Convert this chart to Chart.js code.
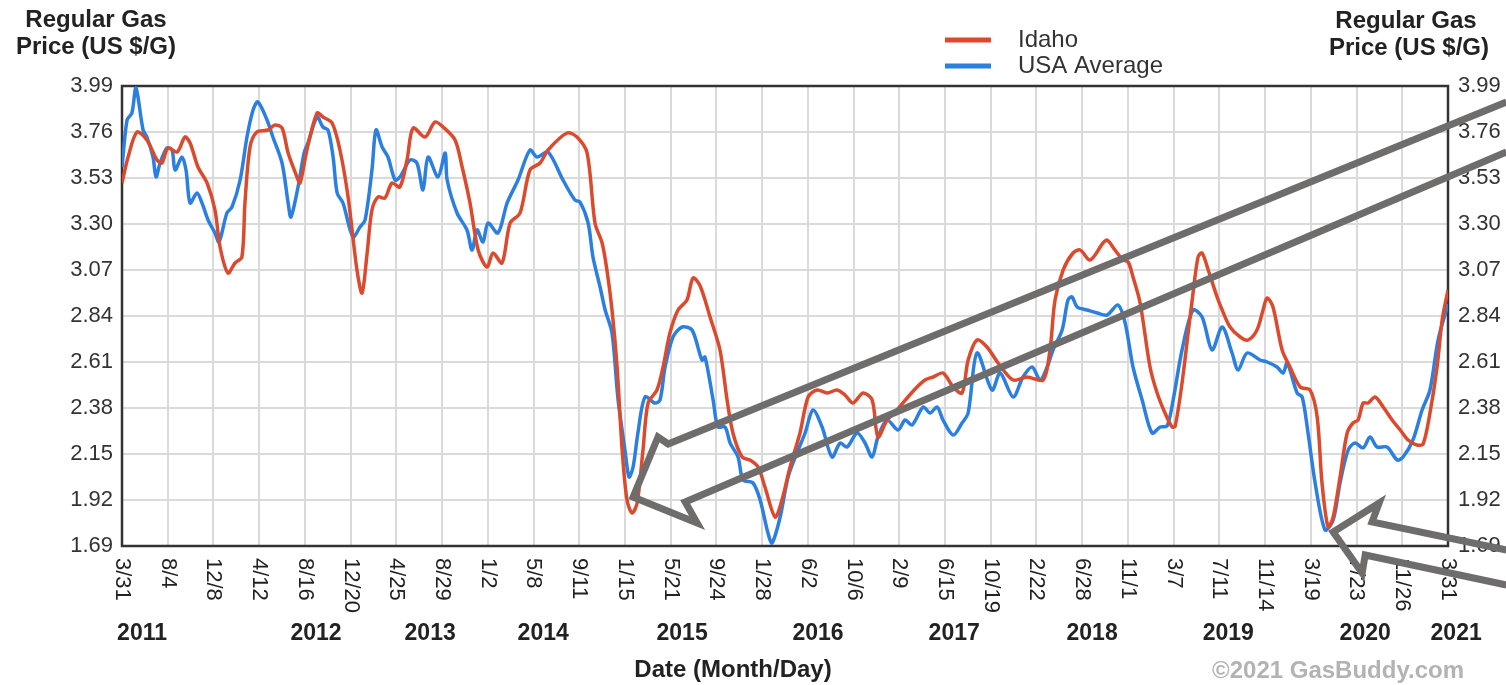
<!DOCTYPE html>
<html>
<head>
<meta charset="utf-8">
<title>Regular Gas Price - Idaho vs USA Average</title>
<script src="https://cdn.jsdelivr.net/npm/chart.js@4.4.1/dist/chart.umd.min.js"></script>
<style>
  html, body { margin: 0; padding: 0; background: #fff; }
  #chart { display: block; }
</style>
</head>
<body>
<canvas id="chart" width="1506" height="685"></canvas>
<script>
// x values are weeks since 3/31/2011, one grid line every 18 weeks
const WEEKS_PER_TICK = 18;

const xTickLabels = ['3/31', '8/4', '12/8', '4/12', '8/16', '12/20', '4/25', '8/29', '1/2', '5/8',
    '9/11', '1/15', '5/21', '9/24', '1/28', '6/2', '10/6', '2/9', '6/15', '10/19',
    '2/22', '6/28', '11/1', '3/7', '7/11', '11/14', '3/19', '7/23', '11/26', '3/31'];

const yearLabels = ['2011', '2012', '2013', '2014', '2015', '2016', '2017', '2018', '2019', '2020', '2021'];
const yearWeeks = [7.9, 76.4, 121.3, 165.8, 220.5, 274.0, 327.6, 381.9, 435.5, 489.4, 525.2];

const yTicks = [1.69, 1.92, 2.15, 2.38, 2.61, 2.84, 3.07, 3.30, 3.53, 3.76, 3.99];
const yTickLabels = ['1.69', '1.92', '2.15', '2.38', '2.61', '2.84', '3.07', '3.30', '3.53', '3.76', '3.99'];

// Idaho
const idahoWeeks = [0, 2.4, 5.9, 9.8, 13.8, 15.7, 18.1, 21.7, 24.8, 26.8,
    29.9, 33.5, 36.6, 38.6, 41.7, 44.5, 47.2, 48.4, 50.4, 53.1,
    57.5, 60.2, 63.0, 65.4, 68.9, 70.1, 72.8, 76.8, 79.1, 82.7,
    85.8, 89.0, 92.5, 94.5, 96.5, 98.4, 100.8, 103.5, 106.3, 109.4,
    112.2, 114.6, 119.3, 123.2, 126.4, 131.1, 133.9, 137.0, 140.2, 143.7,
    146.1, 149.6, 152.8, 156.7, 160.6, 164.6, 167.7, 175.2, 179.1, 183.1,
    186.2, 189.0, 190.9, 192.9, 194.9, 196.9, 198.8, 200.8, 202.8, 205.1,
    207.1, 210.6, 213.0, 215.7, 218.9, 222.4, 224.8, 227.6, 231.5, 235.4,
    238.2, 240.5, 244.1, 247.2, 250.4, 253.1, 257.1, 259.8, 263.0, 266.9,
    270.1, 273.6, 277.6, 281.5, 284.6, 287.8, 291.7, 295.3, 297.6, 301.2,
    305.1, 309.4, 313.0, 316.1, 319.3, 323.2, 327.2, 330.7, 333.1, 336.6,
    340.5, 344.9, 350.8, 356.3, 362.6, 365.3, 367.3, 370.5, 374.4, 377.2,
    381.1, 386.2, 387.8, 390.9, 394.1, 396.1, 398.0, 400.8, 404.7, 407.5,
    410.6, 413.4, 414.6, 417.3, 419.7, 421.3, 423.6, 425.2, 427.6, 431.1,
    433.1, 436.2, 440.2, 443.3, 446.8, 449.2, 450.8, 453.1, 456.7, 459.8,
    463.8, 467.7, 470.5, 472.4, 474.8, 476.8, 479.5, 482.3, 484.6, 486.6,
    488.6, 490.6, 493.3, 496.5, 500.0, 503.2, 506.3, 509.8, 512.2, 514.9,
    517.7, 519.7, 522];
const idahoPrice = [3.505, 3.635, 3.76, 3.72, 3.62, 3.605, 3.68, 3.66, 3.735, 3.705,
    3.585, 3.505, 3.37, 3.185, 3.055, 3.105, 3.135, 3.405, 3.685, 3.76,
    3.77, 3.795, 3.78, 3.655, 3.535, 3.505, 3.67, 3.855, 3.835, 3.805,
    3.67, 3.435, 3.07, 2.955, 3.155, 3.37, 3.435, 3.43, 3.505, 3.485,
    3.62, 3.78, 3.735, 3.81, 3.785, 3.72, 3.585, 3.405, 3.17, 3.085,
    3.155, 3.105, 3.305, 3.355, 3.57, 3.605, 3.67, 3.755, 3.735, 3.655,
    3.305, 3.205, 3.07, 2.87, 2.585, 2.17, 1.92, 1.855, 1.905, 2.17,
    2.405, 2.47, 2.585, 2.755, 2.87, 2.92, 3.03, 2.99, 2.835, 2.67,
    2.42, 2.255, 2.135, 2.12, 2.085, 1.985, 1.835, 1.92, 2.085, 2.255,
    2.435, 2.47, 2.455, 2.47, 2.445, 2.405, 2.455, 2.42, 2.235, 2.32,
    2.37, 2.435, 2.485, 2.52, 2.535, 2.555, 2.485, 2.455, 2.62, 2.72,
    2.685, 2.605, 2.52, 2.535, 2.52, 2.67, 2.92, 3.07, 3.155, 3.17,
    3.12, 3.205, 3.22, 3.17, 3.12, 3.11, 3.035, 2.905, 2.585, 2.455,
    2.355, 2.285, 2.29, 2.505, 2.755, 2.92, 3.135, 3.155, 3.07, 2.935,
    2.87, 2.785, 2.735, 2.72, 2.77, 2.87, 2.93, 2.885, 2.67, 2.585,
    2.485, 2.47, 2.335, 2.005, 1.785, 1.835, 2.035, 2.255, 2.305, 2.32,
    2.405, 2.405, 2.435, 2.385, 2.32, 2.27, 2.22, 2.195, 2.2, 2.355,
    2.585, 2.82, 2.97];

// USA Average
const usaWeeks = [0, 2.0, 3.9, 5.5, 8.3, 9.8, 12.2, 13.4, 15.0, 17.7,
    19.7, 20.9, 23.6, 25.2, 26.8, 29.5, 31.5, 33.9, 36.6, 38.2,
    41.3, 43.3, 46.5, 49.2, 51.6, 53.5, 57.1, 59.4, 63.0, 65.4,
    66.5, 69.3, 71.7, 73.2, 76.8, 79.1, 81.1, 83.1, 84.7, 87.0,
    90.9, 93.7, 95.7, 98.4, 100.0, 102.4, 104.7, 107.5, 109.4, 113.4,
    116.1, 118.5, 120.5, 124.4, 127.2, 128.0, 131.9, 135.8, 137.8, 139.8,
    142.1, 144.1, 148.0, 151.6, 155.9, 160.6, 163.4, 167.7, 173.6, 178.3,
    180.3, 183.5, 185.4, 188.2, 190.2, 192.9, 195.3, 198.0, 199.6, 201.2,
    203.1, 205.9, 209.8, 211.8, 213.8, 216.9, 220.5, 224.4, 228.3, 229.5,
    232.7, 234.6, 237.4, 239.4, 242.5, 244.5, 248.4, 251.2, 254.3, 255.9,
    259.1, 262.2, 265.7, 268.9, 272.0, 275.6, 279.5, 282.7, 285.4, 289.4,
    292.5, 295.3, 297.6, 301.2, 305.5, 308.3, 311.0, 315.4, 318.1, 320.9,
    323.2, 327.2, 330.7, 333.1, 336.6, 342.5, 345.7, 350.8, 354.7, 358.3,
    361.4, 364.2, 366.5, 370.1, 372.4, 374.0, 376.0, 379.9, 383.9, 387.8,
    392.1, 394.9, 398.0, 401.6, 405.5, 408.7, 411.4, 413.8, 417.3, 421.6,
    425.2, 429.1, 433.1, 437.0, 439.4, 442.9, 448.0, 450.8, 454.7, 457.1,
    458.7, 462.6, 464.6, 466.9, 469.7, 473.6, 476.8, 479.5, 482.7, 485.4,
    488.6, 491.3, 494.1, 498.0, 502.0, 504.3, 508.2, 511.8, 514.9, 518.1,
    522];
const usaPrice = [3.585, 3.82, 3.855, 3.98, 3.77, 3.735, 3.635, 3.535, 3.605, 3.68,
    3.67, 3.57, 3.635, 3.57, 3.405, 3.455, 3.405, 3.32, 3.255, 3.21,
    3.355, 3.385, 3.52, 3.735, 3.87, 3.91, 3.82, 3.735, 3.605, 3.405,
    3.335, 3.485, 3.655, 3.705, 3.835, 3.785, 3.77, 3.635, 3.455, 3.405,
    3.235, 3.285, 3.32, 3.57, 3.77, 3.685, 3.635, 3.52, 3.535, 3.62,
    3.605, 3.47, 3.635, 3.535, 3.655, 3.52, 3.355, 3.27, 3.17, 3.27,
    3.21, 3.305, 3.255, 3.405, 3.52, 3.67, 3.635, 3.66, 3.52, 3.42,
    3.41, 3.305, 3.135, 2.985, 2.87, 2.755, 2.42, 2.17, 2.035, 2.085,
    2.255, 2.435, 2.405, 2.42, 2.585, 2.735, 2.785, 2.77, 2.62, 2.635,
    2.42, 2.285, 2.285, 2.205, 2.135, 2.02, 2.005, 1.92, 1.755, 1.705,
    1.835, 2.035, 2.155, 2.255, 2.37, 2.285, 2.135, 2.205, 2.185, 2.255,
    2.205, 2.135, 2.235, 2.32, 2.27, 2.32, 2.295, 2.385, 2.355, 2.385,
    2.32, 2.245, 2.305, 2.355, 2.655, 2.47, 2.555, 2.435, 2.535, 2.585,
    2.52, 2.585, 2.67, 2.77, 2.92, 2.935, 2.885, 2.87, 2.855, 2.845,
    2.895, 2.805, 2.585, 2.42, 2.255, 2.285, 2.29, 2.42, 2.67, 2.87,
    2.835, 2.67, 2.785, 2.655, 2.57, 2.655, 2.62, 2.61, 2.585, 2.555,
    2.605, 2.455, 2.435, 2.255, 2.005, 1.77, 1.82, 2.005, 2.17, 2.205,
    2.18, 2.235, 2.185, 2.185, 2.12, 2.135, 2.22, 2.37, 2.47, 2.72,
    2.9];

// Hand-drawn grey arrows on the screenshot, in (weeks, price) units
const arrowUpper = [[545, 3.91], [215.0, 2.20], [211.0, 2.235], [201.2, 1.935], [226.4, 1.805], [221.7, 1.91], [545, 3.66]];
const arrowLower = [[545, 1.67], [492.1, 1.81], [494.9, 1.905], [476.8, 1.76], [488.2, 1.555], [489.4, 1.645], [545, 1.495]];

const RED = '#db4a2d';
const BLUE = '#2b7fe0';
const FONT = '"Liberation Sans", Arial, sans-serif';

function toPoints(xs, ys) {
    return xs.map((x, i) => ({ x: x, y: ys[i] }));
}

// Extra drawing: frame, rotated date labels, years, titles, legend, arrows
const overlayPlugin = {
    id: 'overlay',
    beforeDatasetsDraw(chart) {
        const { ctx, chartArea: a } = chart;
        ctx.save();
        ctx.strokeStyle = '#333';
        ctx.lineWidth = 2.5;
        ctx.strokeRect(a.left, a.top, a.right - a.left, a.bottom - a.top);
        ctx.restore();
    },
    afterDraw(chart) {
        const { ctx, chartArea: a } = chart;
        const xs = chart.scales.x;
        const ys = chart.scales.y;
        ctx.save();

        // date tick labels, reading top to bottom
        ctx.fillStyle = '#222';
        ctx.font = '22px ' + FONT;
        ctx.textAlign = 'left';
        ctx.textBaseline = 'middle';
        xTickLabels.forEach((lab, i) => {
            const px = xs.getPixelForValue(i * WEEKS_PER_TICK);
            ctx.save();
            ctx.translate(px, a.bottom + 12);
            ctx.rotate(Math.PI / 2);
            ctx.fillText(lab, 0, 0);
            ctx.restore();
        });

        // year labels
        ctx.font = 'bold 23px ' + FONT;
        ctx.textAlign = 'center';
        yearLabels.forEach((yr, i) => {
            ctx.fillText(yr, xs.getPixelForValue(yearWeeks[i]), 634);
        });

        // axis titles
        ctx.fillStyle = '#222';
        ctx.font = 'bold 24px ' + FONT;
        ctx.fillText('Date (Month/Day)', 733, 670);
        ctx.fillText('Regular Gas', 96, 20);
        ctx.fillText('Price (US $/G)', 96, 47);
        ctx.fillText('Regular Gas', 1406, 21);
        ctx.fillText('Price (US $/G)', 1409, 48);

        ctx.fillStyle = '#b3b3b3';
        ctx.fillText('\u00a92021 GasBuddy.com', 1338, 671);

        // legend
        ctx.font = '24px ' + FONT;
        ctx.textAlign = 'left';
        ctx.lineWidth = 5;
        [['Idaho', RED, 40], ['USA Average', BLUE, 66]].forEach(([name, col, y]) => {
            ctx.strokeStyle = col;
            ctx.beginPath();
            ctx.moveTo(945, y);
            ctx.lineTo(991, y);
            ctx.stroke();
            ctx.fillStyle = '#333';
            ctx.fillText(name, 1018, y);
        });

        // grey arrows
        ctx.strokeStyle = '#6f6c6c';
        ctx.lineWidth = 7;
        ctx.lineJoin = 'miter';
        [arrowUpper, arrowLower].forEach(path => {
            ctx.beginPath();
            path.forEach(([w, v], i) => {
                const px = xs.getPixelForValue(w);
                const py = ys.getPixelForValue(v);
                if (i === 0) ctx.moveTo(px, py); else ctx.lineTo(px, py);
            });
            ctx.stroke();
        });

        ctx.restore();
    }
};

const yAxisCommon = {
    type: 'linear',
    min: 1.69,
    max: 3.99,
    afterBuildTicks: (scale) => {
        scale.ticks = yTicks.map(v => ({ value: v }));
    },
    border: { display: false },
    ticks: {
        color: '#333',
        font: { family: FONT, size: 22 },
        callback: (value, index) => yTickLabels[index]
    }
};

new Chart(document.getElementById('chart'), {
    type: 'line',
    data: {
        datasets: [{
            label: 'Idaho',
            data: toPoints(idahoWeeks, idahoPrice),
            borderColor: RED,
            borderWidth: 3.5,
            pointRadius: 0,
            tension: 0.3,
            fill: false
        }, {
            label: 'USA Average',
            data: toPoints(usaWeeks, usaPrice),
            borderColor: BLUE,
            borderWidth: 3.5,
            pointRadius: 0,
            tension: 0.3,
            fill: false
        }]
    },
    options: {
        responsive: false,
        animation: false,
        devicePixelRatio: 1,
        layout: { padding: { top: 86, left: 0, right: 0, bottom: 0 } },
        plugins: {
            legend: { display: false },
            tooltip: { enabled: false }
        },
        scales: {
            x: {
                type: 'linear',
                min: 0,
                max: 522,
                afterBuildTicks: (scale) => {
                    scale.ticks = xTickLabels.map((_, i) => ({ value: i * WEEKS_PER_TICK }));
                },
                afterFit: (scale) => { scale.height = 139; },
                border: { display: false },
                grid: { color: '#dadada', lineWidth: 2, drawTicks: false },
                ticks: { display: false }
            },
            y: Object.assign({}, yAxisCommon, {
                position: 'left',
                afterFit: (scale) => { scale.width = 122; },
                grid: { color: '#dadada', lineWidth: 2, drawTicks: false },
                ticks: Object.assign({}, yAxisCommon.ticks, { padding: 9 })
            }),
            y2: Object.assign({}, yAxisCommon, {
                position: 'right',
                afterFit: (scale) => { scale.width = 58; },
                grid: { drawOnChartArea: false, drawTicks: false },
                ticks: Object.assign({}, yAxisCommon.ticks, { padding: 10 })
            })
        }
    },
    plugins: [overlayPlugin]
});
</script>
</body>
</html>
